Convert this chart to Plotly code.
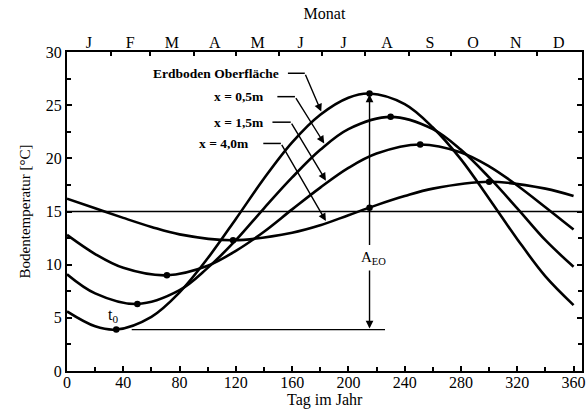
import plotly.graph_objects as go

# ---- data ----
surface_days = [0, 20, 35, 60, 80, 100, 120, 140, 160, 180, 200, 215, 240, 260, 280, 300, 320, 340, 360]
surface_temp = [5.6, 4.2, 3.9, 5.1, 7.4, 10.6, 14.3, 18.1, 21.5, 24.1, 25.7, 26.1, 25.1, 22.9, 19.9, 16.2, 12.4, 8.9, 6.2]

m05_days = [0, 20, 50, 80, 100, 120, 140, 160, 180, 200, 230, 260, 280, 300, 320, 340, 360]
m05_temp = [9.1, 7.3, 6.3, 7.6, 9.7, 12.3, 15.3, 18.2, 20.8, 22.75, 23.9, 22.75, 20.8, 18.2, 15.3, 12.3, 9.8]

m15_days = [0, 20, 40, 71, 100, 120, 140, 160, 180, 200, 220, 251, 280, 300, 320, 340, 360]
m15_temp = [12.8, 11.0, 9.7, 9.0, 9.9, 11.3, 13.1, 15.2, 17.25, 19.1, 20.45, 21.3, 20.55, 19.25, 17.45, 15.4, 13.3]

m40_days = [0, 20, 40, 60, 80, 118, 160, 180, 200, 220, 240, 260, 300, 340, 360]
m40_temp = [16.2, 15.3, 14.4, 13.55, 12.85, 12.3, 13.0, 13.7, 14.65, 15.6, 16.45, 17.15, 17.8, 17.15, 16.45]

dot_days = [35, 215, 50, 230, 71, 251, 118, 215, 300]
dot_temp = [3.9, 26.1, 6.3, 23.9, 9.0, 21.3, 12.3, 15.35, 17.8]

mean_temp = 15
min_line_days = [46, 226]
min_line_temp = 3.9
amp_day = 215

month_labels = ["J", "F", "M", "A", "M", "J", "J", "A", "S", "O", "N", "D"]
month_mid = [15.5, 45, 74.5, 105, 135.5, 166, 196.5, 227.5, 258, 288.5, 319, 349.5]
month_bounds = [31, 59, 90, 120, 151, 181, 212, 243, 273, 304, 334]

labels = ["Erdboden Oberfläche", "x = 0,5m", "x = 1,5m", "x = 4,0m"]
label_x = [152, 141.5, 141.5, 130.5]
label_y = [28.0, 25.8, 23.4, 21.4]
elbow_x0 = [157, 149.5, 146, 139.5]
elbow_x1 = [169, 162, 159, 152]
tip_x = [180.7, 182.8, 184, 184]
tip_y = [24.4, 21.4, 17.9, 14.1]

FONT = "Liberation Serif, Times New Roman, serif"
fig = go.Figure()

for xs, ys in [(surface_days, surface_temp), (m05_days, m05_temp),
               (m15_days, m15_temp), (m40_days, m40_temp)]:
    fig.add_trace(go.Scatter(x=xs, y=ys, mode="lines",
                             line=dict(color="black", width=2.6, shape="spline", smoothing=1.0),
                             showlegend=False, hoverinfo="skip"))

fig.add_trace(go.Scatter(x=dot_days, y=dot_temp, mode="markers",
                         marker=dict(color="black", size=6.5), showlegend=False))

# dummy trace for top axis
fig.add_trace(go.Scatter(x=[0], y=[0], xaxis="x2", mode="markers",
                         marker=dict(opacity=0), showlegend=False, hoverinfo="skip"))

# mean line
fig.add_shape(type="line", xref="paper", x0=0, x1=1, yref="y", y0=mean_temp, y1=mean_temp,
              line=dict(color="black", width=1.6))
# min line
fig.add_shape(type="line", xref="x", x0=min_line_days[0], x1=min_line_days[1], yref="y",
              y0=min_line_temp, y1=min_line_temp, line=dict(color="black", width=1.2))

# leader lines
for i, txt in enumerate(labels):
    fig.add_annotation(x=label_x[i], y=label_y[i], text="<b>%s</b>" % txt, showarrow=False,
                       xanchor="right", yanchor="middle", font=dict(family=FONT, size=13.5, color="black"))
    fig.add_shape(type="line", xref="x", yref="y", x0=elbow_x0[i], x1=elbow_x1[i],
                  y0=label_y[i], y1=label_y[i], line=dict(color="black", width=1.5))
    fig.add_annotation(x=tip_x[i], y=tip_y[i], ax=elbow_x1[i], ay=label_y[i], axref="x", ayref="y",
                       xref="x", yref="y", text="", showarrow=True, arrowhead=2, arrowsize=1.1,
                       arrowwidth=1.4, arrowcolor="black", standoff=0)

# amplitude double arrow
fig.add_annotation(x=amp_day, y=26.0, ax=amp_day, ay=11.7, axref="x", ayref="y", xref="x", yref="y",
                   text="", showarrow=True, arrowhead=2, arrowsize=1.1, arrowwidth=1.4,
                   arrowcolor="black", standoff=0)
fig.add_annotation(x=amp_day, y=4.0, ax=amp_day, ay=9.6, axref="x", ayref="y", xref="x", yref="y",
                   text="", showarrow=True, arrowhead=2, arrowsize=1.1, arrowwidth=1.4,
                   arrowcolor="black", standoff=0)
fig.add_annotation(x=amp_day + 3, y=10.6, text="A<sub>EO</sub>", showarrow=False,
                   font=dict(family=FONT, size=15, color="black"))
fig.add_annotation(x=33, y=5.2, text="t<sub>0</sub>", showarrow=False,
                   font=dict(family=FONT, size=16, color="black"))

# x axis title as annotation (closer to axis, like the reference)
fig.add_annotation(xref="paper", yref="paper", x=0.5, y=0, yshift=-29, yanchor="middle",
                   text="Tag im Jahr", showarrow=False, font=dict(family=FONT, size=16, color="black"))

fig.update_layout(
    width=588, height=412,
    margin=dict(l=67, r=2, t=52, b=41),
    paper_bgcolor="white", plot_bgcolor="white",
    font=dict(family=FONT, size=16, color="black"),
    xaxis=dict(range=[0, 366], tickvals=list(range(0, 361, 40)), ticks="inside", ticklen=5,
               tickwidth=1.5, tickcolor="black", showline=True, linewidth=2, linecolor="black",
               mirror=True, showgrid=False, zeroline=False, ticklabelstandoff=-4,
               tickfont=dict(family=FONT, size=16),
               minor=dict(tickvals=list(range(20, 361, 40)), ticks="inside", ticklen=4,
                          tickcolor="black", tickwidth=1.5)),
    xaxis2=dict(range=[0, 366], overlaying="x", side="top", anchor="y", tickmode="array",
                tickvals=month_mid, ticktext=month_labels, ticks="", showline=False,
                showgrid=False, zeroline=False, tickfont=dict(family=FONT, size=16),
                minor=dict(tickmode="array", tickvals=month_bounds, ticks="inside", ticklen=4,
                           tickcolor="black", tickwidth=1.5),
                title=dict(text="Monat", standoff=10, font=dict(family=FONT, size=16))),
    yaxis=dict(range=[0, 30], dtick=5, ticks="inside", ticklen=5, tickwidth=1.5, tickcolor="black",
               showline=True, linewidth=2, linecolor="black", mirror="ticks", showgrid=False,
               zeroline=False, ticklabelstandoff=0, tickfont=dict(family=FONT, size=16),
               minor=dict(dtick=2.5, ticks="inside", ticklen=4, tickcolor="black", tickwidth=1.5),
               title=dict(text="Bodentemperatur [°C]", standoff=12, font=dict(family=FONT, size=15))),
)

fig.write_html("out.html")
